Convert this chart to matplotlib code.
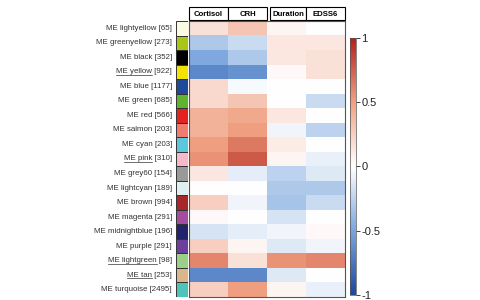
import numpy as np
import matplotlib
matplotlib.use("Agg")
import matplotlib.pyplot as plt
from matplotlib.colors import LinearSegmentedColormap
from matplotlib.patches import Rectangle
from matplotlib.lines import Line2D

plt.rcParams["font.family"] = ["Liberation Sans", "DejaVu Sans"]

modules = ["lightyellow", "greenyellow", "black", "yellow", "blue", "green", "red",
           "salmon", "cyan", "pink", "grey60", "lightcyan", "brown", "magenta",
           "midnightblue", "purple", "lightgreen", "tan", "turquoise"]
sizes = [65, 273, 352, 922, 1177, 685, 566, 203, 203, 310, 154, 189, 994, 291,
         196, 291, 98, 253, 2495]
underlined = ["yellow", "pink", "lightgreen", "tan"]
module_colors = ["#fafbe0", "#a9c516", "#000000", "#f2e400", "#1f4a9c", "#5fb32e",
                 "#e42320", "#f07c70", "#5cc6dc", "#f5b9c9", "#999999", "#dff0f3",
                 "#a8282a", "#a44c9e", "#22236a", "#6c3f9c", "#9bd087", "#d9b68b",
                 "#4fc3b8"]
traits = ["Cortisol", "CRH", "Duration", "EDSS6"]

cortisol = [0.15, -0.30, -0.48, -0.65, 0.20, 0.20, 0.40, 0.40, 0.50, 0.55,
            0.12, 0.00, 0.25, 0.03, -0.15, 0.25, 0.60, -0.65, 0.25]
crh = [0.30, -0.20, -0.30, -0.60, -0.03, 0.30, 0.45, 0.50, 0.65, 0.78,
       -0.10, 0.00, -0.05, 0.00, -0.10, 0.05, 0.15, -0.65, 0.50]
duration = [0.05, 0.12, 0.12, 0.03, 0.00, 0.00, 0.12, -0.05, 0.10, 0.05,
            -0.25, -0.30, -0.33, -0.15, -0.05, -0.12, 0.55, -0.12, 0.05]
edss6 = [0.00, 0.12, 0.15, 0.15, 0.00, -0.20, 0.00, -0.25, 0.00, -0.08,
         -0.12, -0.30, -0.20, 0.00, 0.03, -0.05, 0.60, 0.00, -0.08]

values = np.array([cortisol, crh, duration, edss6]).T

cmap = LinearSegmentedColormap.from_list(
    "rdbu", [(0.0, "#1b48a0"), (0.25, "#7aa5dd"), (0.5, "#ffffff"),
             (0.75, "#f0a082"), (1.0, "#b3221a")])

fig = plt.figure(figsize=(4.8, 3.0), dpi=100)
W, H = 480, 300


def ax_px(x0, y0, x1, y1):
    # pixel box (top-left origin) -> figure axes
    return fig.add_axes([x0 / W, 1 - y1 / H, (x1 - x0) / W, (y1 - y0) / H])


n = len(modules)

# heatmap
ax = ax_px(189, 21, 345, 297)
ax.imshow(values, cmap=cmap, vmin=-1, vmax=1, aspect="auto", interpolation="nearest")
ax.set_xticks([])
ax.set_yticks([])
for s in ax.spines.values():
    s.set_linewidth(0.8)
    s.set_color("#555555")

# module colour strip
sax = ax_px(176, 21, 188, 297)
for i, c in enumerate(module_colors):
    sax.add_patch(Rectangle((0, i), 1, 1, facecolor=c, edgecolor="#333333", lw=0.7))
sax.set_xlim(0, 1)
sax.set_ylim(n, 0)
sax.axis("off")

# header boxes
hax = ax_px(189, 7, 345, 20)
hax.set_xlim(0, 4)
hax.set_ylim(0, 1)
hax.axis("off")
gap = 0.08
for j, t in enumerate(traits):
    x0 = j + (gap if j == 2 else 0)
    w = 1 - (gap if j == 2 else 0)
    hax.add_patch(Rectangle((x0, 0), w, 1, facecolor="white", edgecolor="black",
                            lw=0.8, clip_on=False))
    hax.text(x0 + w / 2, 0.45, t, ha="center", va="center", fontsize=5.6,
             fontweight="bold")

# row labels
fig.canvas.draw()
renderer = fig.canvas.get_renderer()
for i, (m, sz) in enumerate(zip(modules, sizes)):
    y = 1 - (21 + (i + 0.5) * 276 / n) / H
    label = f"ME {m} [{sz}]"
    txt = fig.text(172 / W, y, label, ha="right", va="center", fontsize=5.7,
                   color="#333333")
    if m in underlined:
        bb = txt.get_window_extent(renderer)
        tmp = fig.text(0, 0, f"ME {m}", fontsize=5.7)
        wname = tmp.get_window_extent(renderer).width
        tmp.remove()
        yl = (bb.y0 + 0.5) / H
        fig.add_artist(Line2D([bb.x0 / W, (bb.x0 + wname) / W], [yl, yl],
                              transform=fig.transFigure, color="#333333", lw=0.5))

# colorbar
cax = ax_px(350, 38, 356, 295)
sm = plt.cm.ScalarMappable(cmap=cmap, norm=plt.Normalize(-1, 1))
cb = fig.colorbar(sm, cax=cax, ticks=[-1, -0.5, 0, 0.5, 1])
cb.ax.set_yticklabels(["-1", "-0.5", "0", "0.5", "1"])
cb.ax.tick_params(labelsize=8, length=3, width=0.6, pad=1, colors="#222222")
cb.outline.set_linewidth(0.5)
cb.outline.set_edgecolor("#555555")

fig.savefig("out.png", dpi=100)
